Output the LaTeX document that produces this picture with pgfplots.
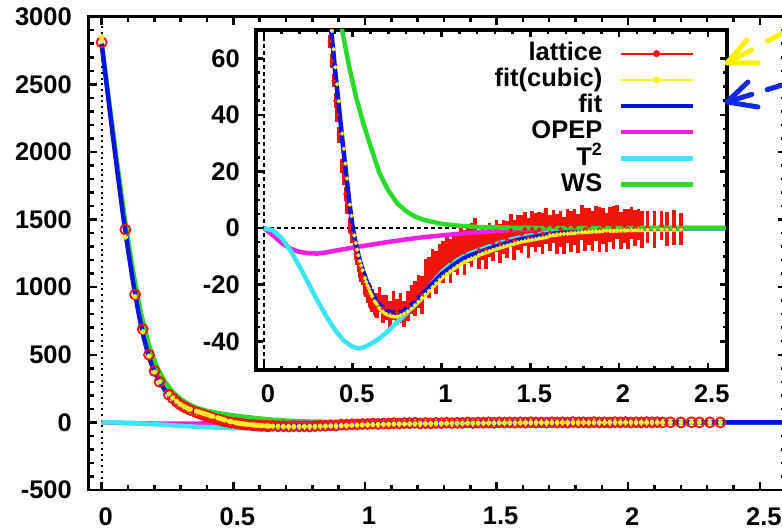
\documentclass[border=0pt]{standalone}
\usepackage{fontspec}
\setmainfont{Liberation Sans}
\usepackage{pgfplots}
\usepackage{pgfplotstable}
\pgfplotsset{compat=1.18}

\definecolor{cred}{RGB}{240,20,10}
\definecolor{cyel}{RGB}{250,240,40}
\definecolor{cblue}{RGB}{10,20,225}
\definecolor{cmag}{RGB}{240,30,230}
\definecolor{ccyan}{RGB}{60,230,240}
\definecolor{cgreen}{RGB}{40,220,40}
\definecolor{ayel}{RGB}{250,240,0}
\definecolor{ablue}{RGB}{20,40,230}

\pgfplotstableread{
r V err Y
0.000 2810 25 2850
0.090 1425 18 1370
0.127 945 12 930
0.156 690 9 670
0.180 500 7 490
0.201 380 6 372
0.220 300 5 300
0.255 205 4 210
0.270 178 4 180
0.285 152 3 155
0.298 132 3 134
0.312 116 3 118
0.324 104 3 106
0.337 92 2.5 97
0.360 74 2.4 83
0.371 66 2.2 76.5
0.382 59 2.6 69.7
0.392 52 2.3 63.2
0.402 45 2.7 56.8
0.412 40 2.4 50.8
0.422 33 2.8 44.8
0.441 22 2.5 33.4
0.450 18 2.9 28
0.459 12 2.6 22.8
0.468 8 3.0 17.5
0.485 1 2.7 8.3
0.493 -2 3.1 4.3
0.509 -5 2.8 -2.6
0.517 -8 3.3 -5.3
0.525 -10 3.0 -7.6
0.532 -12 3.4 -9.6
0.540 -14.5 3.1 -11.7
0.547 -15.5 3.6 -13.2
0.555 -17 3.2 -14.9
0.569 -20 3.7 -17.7
0.576 -21 3.4 -19.0
0.583 -22.5 3.8 -20.3
0.590 -23 3.5 -21.3
0.597 -24 4.0 -22.4
0.604 -25 3.6 -23.3
0.610 -25.5 4.1 -24.1
0.624 -27 3.7 -25.9
0.630 -27.3 4.2 -26.4
0.636 -28 3.8 -27.0
0.65 -25.2 4.4 -28.2
0.67 -28.5 4.9 -29.5
0.69 -28.1 4.3 -30.35
0.71 -30.6 4.7 -30.9
0.73 -27.4 5.2 -31.2
0.75 -29.7 4.6 -31.2
0.77 -28.2 5.3 -30.85
0.79 -30.3 4.5 -30.25
0.81 -27.5 5.2 -29.45
0.83 -25.2 5.0 -28.45
0.85 -25.0 6.2 -27.3
0.87 -22.4 5.8 -26.05
0.89 -23.7 6.8 -24.75
0.91 -17.1 6.2 -23.45
0.93 -17.5 7.2 -22.15
0.95 -13.8 6.4 -20.85
0.97 -15.6 7.6 -19.55
0.99 -12.3 6.7 -18.25
1.01 -12.0 7.4 -17.1
1.03 -8.5 6.6 -16.15
1.05 -11.6 7.8 -15.25
1.07 -8.7 6.9 -14.3
1.09 -9.0 7.6 -13.4
1.11 -5.9 6.7 -12.6
1.13 -8.5 8.0 -11.9
1.15 -5.4 7.0 -11.3
1.17 -5.9 7.7 -10.75
1.19 -3.3 6.9 -10.3
1.21 -7.8 6.6 -9.5
1.23 -5.4 5.9 -9.05
1.25 -7.7 6.9 -8.6
1.27 -4.3 6.0 -8.15
1.29 -5.3 6.4 -7.7
1.31 -2.8 5.8 -7.3
1.33 -5.4 6.8 -6.9
1.35 -3.2 6.1 -6.5
1.37 -4.1 6.6 -6.15
1.39 -0.8 5.9 -5.8
1.41 -4.3 7.0 -5.45
1.43 -1.6 6.2 -5.1
1.45 -2.2 6.7 -4.8
1.47 -0.4 6.0 -4.55
1.49 -3.5 7.1 -4.3
1.51 -0.3 6.3 -4.1
1.53 -1.6 6.8 -3.85
1.55 -0.5 6.1 -3.6
1.57 -2.0 7.2 -3.4
1.59 0.8 6.4 -3.2
1.61 -1.7 6.5 -2.6
1.63 0.65 5.9 -2.45
1.65 -2.0 7.0 -2.3
1.67 -0.35 6.3 -2.15
1.69 -2.7 6.6 -2.0
1.71 0.8 6.0 -1.9
1.73 -1.2 7.3 -1.8
1.75 0.5 6.4 -1.7
1.77 -1.85 6.8 -1.55
1.79 2.05 6.2 -1.45
1.81 -0.35 7.6 -1.35
1.83 0.7 6.5 -1.3
1.85 -1.1 7.0 -1.2
1.87 1.65 6.3 -1.15
1.89 -0.6 7.9 -1.1
1.91 0.7 6.4 -1.0
1.93 -1.55 6.9 -0.95
1.95 1.35 6.2 -0.95
1.97 0.2 7.5 -0.9
1.99 2.15 6.0 -0.85
2.01 -0.85 6.7 -0.85
2.03 0.8 5.9 -0.8
2.05 -0.35 7.2 -0.75
2.07 1.75 5.7 -0.75
2.09 0.1 6.4 -0.7
2.11 1.2 5.4 -0.7
2.13 -0.5 6.6 -0.7
2.16 0.4 5.5 -0.6
2.20 -0.6 6.6 -0.6
2.24 0.9 5.2 -0.55
2.27 -0.3 5.9 -0.5
2.31 0.2 6.2 -0.5
2.35 -0.2 5.6 -0.5
}\lattice

\pgfplotstableread{
r V
0 2800
0.02 2480
0.04 2160
0.06 1850
0.08 1550
0.10 1280
0.12 1030
0.14 810
0.16 625
0.18 480
0.20 375
0.22 300
0.24 240
0.26 195
0.28 158
0.30 128
0.32 107
0.34 93
0.36 81
0.38 69
0.40 56
0.42 44
0.44 32
0.46 20.5
0.48 9.5
0.50 0
0.52 -6.5
0.54 -11.5
0.56 -15.5
0.58 -19
0.60 -22
0.62 -24.3
0.64 -26.2
0.66 -27.6
0.68 -28.7
0.70 -29.4
0.72 -29.8
0.74 -30
0.76 -29.8
0.78 -29.3
0.80 -28.6
0.82 -27.7
0.84 -26.6
0.86 -25.4
0.88 -24.1
0.90 -22.8
0.92 -21.5
0.94 -20.2
0.96 -18.9
0.98 -17.6
1.00 -16.3
1.04 -14.4
1.08 -12.5
1.12 -10.9
1.16 -9.7
1.20 -8.8
1.25 -7.7
1.30 -6.6
1.35 -5.6
1.40 -4.7
1.45 -3.9
1.50 -3.3
1.55 -2.7
1.60 -2.2
1.65 -1.8
1.70 -1.45
1.80 -0.9
1.90 -0.55
2.00 -0.35
2.10 -0.2
2.20 -0.1
2.40 0
2.60 0
}\fitT

\pgfplotstableread{
r V
0 0
0.05 -2.5
0.10 -5.3
0.15 -7.3
0.20 -8.4
0.25 -8.9
0.30 -9.0
0.35 -8.6
0.40 -8.0
0.50 -6.9
0.60 -5.9
0.70 -4.9
0.80 -4.0
0.90 -3.2
1.00 -2.6
1.10 -2.0
1.20 -1.5
1.30 -1.05
1.40 -0.7
1.50 -0.45
1.70 -0.2
2.00 -0.05
2.60 0
}\opepT

\pgfplotstableread{
r V
0 0
0.05 -0.8
0.10 -3.5
0.15 -8
0.20 -13.5
0.25 -19.5
0.30 -25.5
0.35 -31
0.40 -36
0.45 -39.8
0.50 -42
0.53 -42.5
0.56 -42.2
0.60 -41
0.65 -39
0.70 -36.3
0.75 -33.3
0.80 -30.3
0.85 -26.8
0.90 -23.0
0.95 -19.2
1.00 -15.6
1.05 -12.9
1.10 -10.9
1.15 -9.2
1.20 -8.0
1.25 -6.9
1.30 -5.8
1.35 -4.8
1.40 -3.9
1.45 -3.2
1.50 -2.6
1.60 -1.6
1.70 -1.0
1.80 -0.5
1.90 -0.3
2.00 -0.15
2.20 0
2.60 0
}\tsqT

\pgfplotstableread{
r V
0 2800
0.03 2350
0.06 1900
0.09 1480
0.12 1110
0.15 800
0.18 570
0.21 410
0.24 300
0.27 225
0.30 172
0.33 135
0.36 108
0.40 85
0.44 70
0.48 57
0.52 46
0.56 37
0.60 29
0.65 19.5
0.70 13.3
0.75 8.8
0.80 6.0
0.85 4.1
0.90 2.9
1.00 1.5
1.10 0.8
1.20 0.4
1.40 0.1
1.60 0
2.60 0
}\wsT

\begin{document}
\begin{tikzpicture}
\useasboundingbox (0,0) rectangle (782pt,529pt);
\begin{axis}[
  at={(88.5pt,39pt)}, anchor=south west,
  scale only axis, width=697.7pt, height=473.3pt,
  xmin=-0.05, xmax=2.6, ymin=-500, ymax=3000,
  xtick={0,0.5,1,1.5,2,2.5}, xticklabels={0,0.5,1,1.5,2,2.5},
  ytick={-500,0,500,1000,1500,2000,2500,3000},
  yticklabels={-500,0,500,1000,1500,2000,2500,3000},
  minor x tick num=4, minor y tick num=4,
  tick align=inside,
  major tick length=8pt, minor tick length=5pt,
  tick style={black, line width=2.5pt},
  axis line style={line width=2.8pt},
  tick label style={font=\fontsize{25.5}{30}\selectfont\bfseries},
  xticklabel style={anchor=north, inner sep=0pt, xshift=4pt},
  yticklabel style={anchor=east, inner sep=0pt},
  xticklabel shift=17pt, yticklabel shift=16.5pt,
]
\addplot[black, line width=2pt, dash pattern=on 2pt off 3.7pt, forget plot] coordinates {(0,-500) (0,3000)};
\addplot[cred, only marks, mark=o, mark size=5pt, line width=1.8pt,
  error bars/.cd, y dir=both, y explicit, error mark=none, error bar style={line width=1.5pt, cred}]
  table[x=r, y=V, y error=err]{\lattice};
\addplot[cyel, line width=3pt, mark=*, mark size=2.3pt, mark options={line width=0.5pt, fill=cyel}] table[x=r, y=Y]{\lattice};
\addplot[cgreen, line width=4.5pt, line join=round] table[x=r, y=V]{\wsT};
\addplot[cmag, line width=4.5pt, line join=round] table[x=r, y=V]{\opepT};
\addplot[ccyan, line width=4.5pt, line join=round] table[x=r, y=V]{\tsqT};
\addplot[cblue, line width=4.5pt, line join=round] table[x=r, y=V]{\fitT};
\end{axis}

\begin{axis}[
  at={(256pt,159.4pt)}, anchor=south west,
  scale only axis, width=471.3pt, height=339.6pt,
  xmin=-0.045, xmax=2.61, ymin=-50, ymax=70,
  axis background/.style={fill=white},
  xtick={0,0.5,1,1.5,2,2.5}, xticklabels={0,0.5,1,1.5,2,2.5},
  ytick={-40,-20,0,20,40,60}, yticklabels={-40,-20,0,20,40,60},
  minor x tick num=4, minor y tick num=3,
  tick align=inside,
  major tick length=7pt, minor tick length=4pt,
  tick style={black, line width=2.5pt},
  axis line style={line width=4pt},
  tick label style={font=\fontsize{25.5}{30}\selectfont\bfseries},
  xticklabel style={anchor=north, inner sep=0pt, xshift=4pt},
  yticklabel style={anchor=east, inner sep=0pt},
  xticklabel shift=15pt, yticklabel shift=16pt,
  legend cell align=right, legend plot pos=right,
  legend image code/.code={\draw[mark repeat=2, mark phase=2, #1] plot coordinates {(0pt,0pt) (36pt,0pt) (72pt,0pt)};},
  legend style={at={(0.9315,0.9664)}, anchor=north east, draw=none, fill=none,
    inner sep=0pt, font=\fontsize{25.5}{30}\selectfont\bfseries, row sep=2.2pt,
    nodes={inner sep=0pt, text height=18.6pt, text depth=5.4pt},
    /tikz/every odd column/.append style={column sep=16pt}},
]
\addplot[black, line width=1.2pt, dash pattern=on 4pt off 3pt, forget plot] coordinates {(-0.045,0) (2.61,0)};
\addplot[black, line width=1.2pt, dash pattern=on 4pt off 3pt, forget plot] coordinates {(0,-50) (0,70)};
\addplot[cred, only marks, mark=*, mark size=1.8pt, line width=1pt, forget plot,
  error bars/.cd, y dir=both, y explicit, error mark=none, error bar style={line width=3.6pt, cred}]
  table[x=r, y=V, y error=err]{\lattice};
\addplot[cyel, line width=4pt, mark=*, mark size=1.9pt, mark options={line width=0.5pt, fill=cyel}, forget plot] table[x=r, y=Y]{\lattice};
\addplot[cmag, line width=4.5pt, line join=round, forget plot] table[x=r, y=V]{\opepT};
\addplot[ccyan, line width=4.5pt, line join=round, forget plot] table[x=r, y=V]{\tsqT};
\addplot[cblue, line width=4.5pt, line join=round, forget plot] table[x=r, y=V]{\fitT};
\addplot[cgreen, line width=4.5pt, line join=round, forget plot] table[x=r, y=V]{\wsT};
\addlegendimage{cred, line width=2pt, mark=*, mark size=3.2pt, mark options={line width=0.5pt, fill=cred}}
\addlegendentry{lattice}
\addlegendimage{cyel, line width=2.5pt, mark=*, mark size=3.2pt, mark options={line width=0.5pt, fill=cyel}}
\addlegendentry{fit(cubic)}
\addlegendimage{cblue, line width=4.5pt}
\addlegendentry{fit}
\addlegendimage{cmag, line width=4.5pt}
\addlegendentry{OPEP}
\addlegendimage{ccyan, line width=4.5pt}
\addlegendentry{T\textsuperscript{2}}
\addlegendimage{cgreen, line width=4.5pt}
\addlegendentry{WS}
\end{axis}

\draw[ayel, line width=5pt, line cap=round, dash pattern=on 28pt off 18pt] (727pt,466pt) -- (792pt,501pt);
\draw[ayel, line width=5pt, line cap=round, line join=round] (747pt,489pt) -- (727pt,466pt) -- (758pt,466pt);
\draw[ablue, line width=5pt, line cap=round, dash pattern=on 26pt off 16pt] (727pt,427pt) -- (792pt,447pt);
\draw[ablue, line width=5pt, line cap=round, line join=round] (748pt,447pt) -- (727pt,427pt) -- (758pt,422pt);
\end{tikzpicture}
\end{document}
